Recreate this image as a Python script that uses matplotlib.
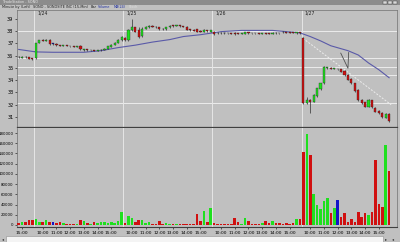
import matplotlib
matplotlib.use('Agg')
import matplotlib.pyplot as plt
from matplotlib.patches import Rectangle

# SONO 15-min bars, 1/23 14:45 through 1/27 15:45
day_labels = ['1/24', '1/25', '1/26', '1/27']
day_starts = [5, 31, 57, 83]
hours = [10, 11, 12, 13, 14, 15]

opens = [35.90, 35.82, 35.90, 35.85, 35.78,
         35.80, 37.05, 37.28, 37.22, 37.30, 36.95, 36.95, 36.86, 36.78, 36.83, 36.78, 36.76, 36.72,
         36.80, 36.45, 36.50, 36.42, 36.45, 36.40, 36.42, 36.46, 36.55, 36.74, 36.90, 37.05, 37.25,
         37.45, 37.25, 38.10, 38.30, 38.10, 37.60, 38.20, 38.30, 38.42, 38.36, 38.30, 38.20, 38.15,
         38.30, 38.46, 38.40, 38.46, 38.40, 38.35, 38.15, 38.10, 38.15, 38.00, 37.92, 38.10, 37.95,
         37.95, 37.86, 37.86, 37.84, 37.83, 37.82, 37.86, 37.80, 37.77, 37.78, 37.88, 37.82, 37.82,
         37.82, 37.79, 37.84, 37.80, 37.76, 37.85, 37.82, 37.95, 37.92, 37.88, 37.87, 37.80, 37.92,
         37.40, 32.15, 32.40, 32.25, 32.70, 33.25, 33.75, 35.00, 35.00, 34.92, 34.90, 34.90, 34.75,
         34.45, 34.10, 33.75, 33.20, 32.40, 32.20, 31.85, 32.35, 31.75, 31.50, 31.35, 30.95, 31.25]
highs = [35.95, 35.95, 35.95, 35.90, 35.82,
         37.05, 37.30, 37.32, 37.35, 37.35, 37.00, 37.00, 36.90, 36.86, 36.86, 36.82, 36.80, 36.80,
         36.85, 36.55, 36.52, 36.48, 36.48, 36.46, 36.50, 36.58, 36.78, 36.92, 37.08, 37.32, 37.58,
         37.50, 38.20, 39.00, 38.35, 38.30, 38.30, 38.40, 38.45, 38.45, 38.40, 38.34, 38.24, 38.34,
         38.45, 38.50, 38.52, 38.50, 38.44, 38.38, 38.18, 38.14, 38.20, 38.05, 38.15, 38.12, 38.10,
         37.98, 37.90, 37.90, 37.88, 37.86, 37.85, 37.90, 37.83, 37.83, 37.92, 37.90, 37.85, 37.84,
         37.85, 37.87, 37.86, 37.83, 37.88, 37.88, 37.85, 37.98, 37.95, 37.91, 37.90, 37.95, 37.95,
         37.50, 32.60, 32.50, 32.85, 33.40, 33.80, 35.15, 35.10, 35.05, 35.00, 34.95, 34.95, 34.80,
         34.50, 34.20, 33.80, 33.30, 32.45, 32.25, 32.45, 32.40, 31.80, 31.55, 31.40, 31.30, 31.30]
lows = [35.80, 35.78, 35.80, 35.72, 35.65,
        35.70, 37.00, 37.18, 37.18, 36.90, 36.90, 36.82, 36.76, 36.75, 36.75, 36.72, 36.70, 36.70,
        36.45, 36.40, 36.38, 36.38, 36.36, 36.36, 36.38, 36.44, 36.52, 36.70, 36.86, 37.00, 37.20,
        37.20, 37.20, 38.00, 37.88, 37.45, 37.55, 38.15, 38.28, 38.32, 38.26, 38.10, 38.12, 38.12,
        38.28, 38.36, 38.38, 38.36, 38.30, 38.05, 38.02, 37.98, 37.92, 37.90, 37.90, 37.96, 37.92,
        37.70, 37.78, 37.76, 37.78, 37.76, 37.74, 37.70, 37.74, 37.74, 37.75, 37.78, 37.77, 37.78,
        37.77, 37.77, 37.72, 37.73, 37.74, 37.77, 37.77, 37.86, 37.83, 37.82, 37.81, 37.78, 37.78,
        32.10, 32.05, 31.30, 32.20, 32.65, 33.20, 33.70, 34.95, 34.90, 34.88, 34.85, 34.65, 34.35,
        34.00, 33.70, 33.05, 32.30, 32.10, 31.80, 31.80, 31.75, 31.40, 31.25, 30.90, 30.90, 30.60]
closes = [35.85, 35.90, 35.85, 35.76, 35.70,
          37.00, 37.25, 37.22, 37.30, 36.95, 36.95, 36.86, 36.80, 36.83, 36.78, 36.75, 36.72, 36.77,
          36.50, 36.50, 36.42, 36.45, 36.40, 36.43, 36.46, 36.55, 36.75, 36.90, 37.05, 37.30, 37.55,
          37.25, 38.10, 38.30, 37.95, 37.55, 38.20, 38.35, 38.42, 38.36, 38.30, 38.15, 38.15, 38.30,
          38.42, 38.40, 38.48, 38.40, 38.35, 38.10, 38.05, 38.02, 37.95, 37.93, 38.10, 38.00, 38.05,
          37.75, 37.82, 37.80, 37.80, 37.80, 37.78, 37.74, 37.77, 37.80, 37.88, 37.80, 37.80, 37.80,
          37.79, 37.84, 37.75, 37.76, 37.85, 37.80, 37.80, 37.90, 37.86, 37.85, 37.84, 37.92, 37.82,
          32.15, 32.35, 32.20, 32.80, 33.35, 33.75, 35.10, 35.05, 34.94, 34.97, 34.90, 34.70, 34.40,
          34.05, 33.75, 33.10, 32.35, 32.15, 31.85, 32.40, 31.80, 31.45, 31.30, 31.00, 31.25, 30.70]
volumes = [4000, 6000, 5000, 9000, 9000,
           12000, 6000, 5000, 10000, 6000, 5000, 3000, 5000, 4000, 1000, 2000, 1500, 1000,
           9000, 8000, 4000, 2000, 5000, 3000, 5000, 5000, 4000, 6000, 4000, 7000, 25000,
           3000, 17000, 13000, 6000, 9000, 9000, 4000, 5000, 2000, 2000, 7000, 2000, 3000,
           2000, 2000, 2000, 1500, 2000, 2000, 2000, 2000, 21000, 8000, 27000, 6000, 34000,
           3000, 1500, 2500, 1500, 2000, 2000, 13000, 5000, 1000, 14000, 7000, 2000, 1000,
           2000, 3000, 7000, 4000, 7000, 4000, 3000, 2000, 4000, 2000, 3000, 12000, 11000,
           142000, 179000, 137000, 60000, 40000, 32000, 47000, 53000, 23000, 34000, 49000, 16000, 23000,
           6500, 11000, 6500, 25000, 16000, 23000, 20000, 26000, 128000, 41000, 36000, 157000, 106000]

# moving average as drawn on the chart (bar index, value)
ma_idx = [0, 5, 10, 19, 24, 29, 34, 39, 44, 48, 53, 59, 65, 74, 82, 85, 88, 91, 96, 99, 102, 105, 108]
ma_val = [36.5, 36.3, 36.27, 36.27, 36.4, 36.65, 36.85, 37.1, 37.3, 37.55, 37.7, 37.95, 38.05,
          38.05, 37.85, 37.55, 37.2, 36.8, 36.4, 36.05, 35.4, 34.85, 34.2]

# hand-drawn lines
levels = [38.0, 35.8, 35.07, 34.46, 32.14]
trend_idx = [82.9, 108.6]
trend_val = [37.4, 32.0]
arrow_idx = [93.9, 96.0, 96.2]
arrow_val = [36.2, 34.97, 36.25]

UP, DOWN, FLAT = '#1ee01e', '#d01010', '#1414c8'
BG = '#c0c0c0'
W, H = 400, 242


def bar_color(o, c):
    if c > o:
        return UP
    if c < o:
        return DOWN
    return FLAT


def box(x0, y0, x1, y1):
    # pixel box -> figure fraction [l, b, w, h]
    return [x0 / W, 1 - y1 / H, (x1 - x0) / W, (y1 - y0) / H]


n = len(closes)
xs = list(range(n))
colors = [bar_color(o, c) for o, c in zip(opens, closes)]

fig = plt.figure(figsize=(W / 100, H / 100), dpi=100, facecolor=BG)
ax = fig.add_axes(box(17, 10, 397, 127), facecolor=BG)
axv = fig.add_axes(box(17, 128, 397, 227), facecolor=BG, sharex=ax)

# price panel
for lv in levels:
    ax.axhline(lv, color='#ececec', lw=0.7, zorder=1)
for s in day_starts:
    ax.axvline(s - 0.5, color='#e6e6e6', lw=0.7, zorder=1)
    axv.axvline(s - 0.5, color='#e6e6e6', lw=0.7, zorder=1)
ax.plot(ma_idx, ma_val, color='#5a5aa8', lw=0.8, zorder=2)
ax.plot(trend_idx, trend_val, color='#ececec', lw=0.7, ls=(0, (2, 1.5)), zorder=2)
ax.plot(arrow_idx, arrow_val, color='#505050', lw=0.6, zorder=2)

ax.vlines(xs, lows, highs, color='#303030', lw=0.5, zorder=3)
bottoms = [min(o, c) for o, c in zip(opens, closes)]
heights = [max(abs(c - o), 0.04) for o, c in zip(opens, closes)]
ax.bar(xs, heights, bottom=bottoms, width=0.62, color=colors,
       edgecolor='#202020', linewidth=0.25, zorder=4)

ax.set_xlim(-0.5, 110.3)
ax.set_ylim(30.19, 39.71)
ax.set_yticks(range(31, 40))
ax.tick_params(axis='y', labelsize=3.6, length=1.5, pad=1, width=0.4)
ax.tick_params(axis='x', bottom=False, labelbottom=False)
for s, lab in zip(day_starts, day_labels):
    ax.text(s + 0.4, 39.5, lab, fontsize=3.3, va='center', color='#202020')

# volume panel
axv.bar(xs, volumes, width=0.75, color=colors, edgecolor='none', zorder=3)
axv.set_ylim(-3950, 189900)
axv.set_yticks(range(0, 180001, 20000))
axv.set_yticklabels([str(v) for v in range(0, 180001, 20000)])
axv.tick_params(axis='y', labelsize=2.8, length=1.5, pad=1, width=0.4)

tick_pos, tick_lab = [1], ['15:00']
for s in day_starts:
    for h in hours:
        tick_pos.append(s + (h * 60 - 570) // 15)
        tick_lab.append(f'{h}:00')
axv.set_xticks(tick_pos)
axv.set_xticklabels(tick_lab)
axv.tick_params(axis='x', labelsize=3.2, length=1.5, pad=1.5, width=0.4)

for a in (ax, axv):
    for sp in a.spines.values():
        sp.set_color('#707070')
        sp.set_linewidth(0.5)
ax.spines['bottom'].set_color('#404040')
ax.spines['bottom'].set_linewidth(0.9)
axv.spines['top'].set_visible(False)
axv.spines['bottom'].set_color('#404040')
axv.spines['bottom'].set_linewidth(0.8)

# window chrome: title strip, header, scrollbar
fig.patches.append(Rectangle((0, 1 - 4.5 / H), 1, 4.5 / H, transform=fig.transFigure,
                             facecolor='#8c8c8c', edgecolor='none'))
fig.text(3 / W, 1 - 2.3 / H, 'TradeStation - SONO', fontsize=2.4, color='#e8e8e8', va='center')
for bx in (383, 388, 393):
    fig.patches.append(Rectangle((bx / W, 1 - 4 / H), 4 / W, 3.4 / H, transform=fig.transFigure,
                                 facecolor='#d8d8d8', edgecolor='#404040', lw=0.3))
hdr_y = 1 - 7.2 / H
fig.text(2 / W, hdr_y, 'Minute by (Left)', fontsize=2.5, color='#202020', va='center')
fig.text(33 / W, hdr_y, 'SONO - SONOSITE INC (15-Min)', fontsize=2.5, color='#202020', va='center')
fig.text(91 / W, hdr_y, 'Bar', fontsize=2.5, color='#202020', va='center')
fig.text(98 / W, hdr_y, 'Volume', fontsize=2.4, color='#2030a0', va='center')
fig.text(113.5 / W, hdr_y, 'MA(24)', fontsize=2.4, color='#2030a0', va='center')
fig.text(129 / W, hdr_y, 'Stoch', fontsize=2.4, color='#e0e0e0', va='center')

fig.patches.append(Rectangle((6 / W, 0.5 / H), 377 / W, 5.5 / H, transform=fig.transFigure,
                             facecolor='#f4f4f4', edgecolor='#909090', lw=0.4))
fig.text(2 / W, 3 / H, '\u25c2', fontsize=3, color='#303030', va='center')
fig.text(385 / W, 3 / H, '\u25b8', fontsize=3, color='#303030', va='center')
fig.text(392 / W, 3 / H, '\u25c2', fontsize=3, color='#303030', va='center')

fig.savefig('out.png', dpi=100, facecolor=BG)
